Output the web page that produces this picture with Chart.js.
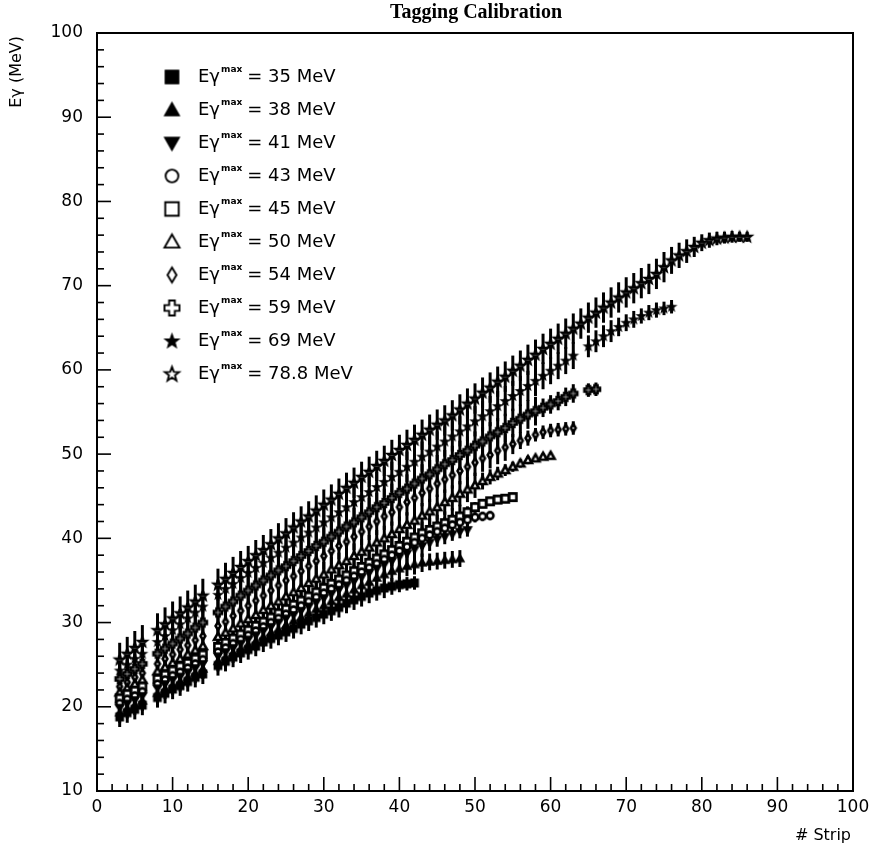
<!DOCTYPE html>
<html lang="en">
<head>
  <meta charset="UTF-8">
  <title>Tagging Calibration</title>
  <script src="https://cdn.jsdelivr.net/npm/chart.js"></script>
  <style>
    html, body { margin: 0; padding: 0; background: #fff; }
    #wrap { width: 877px; height: 845px; }
  </style>
</head>
<body>
  <div id="wrap"><canvas id="calib" width="877" height="845"></canvas></div>
  <script>
    // strip numbers (7 and 15 are absent in every run)
    const strips = [3,4,5,6, 8,9,10,11,12,13,14,
      16,17,18,19,20,21,22,23,24,25,26,27,28,29,30,31,32,33,34,35,36,37,38,39,40,
      41,42,43,44,45,46,47,48,49,50,51,52,53,54,55,56,57,58,59,60,
      61,62,63,64,65,66,67,68,69,70,71,72,73,74,75,76,77,78,79,80,
      81,82,83,84,85,86];

    // photon energy (MeV) per strip, one array per endpoint energy
    const e35 = [18.8,19.3,19.7,20.2, 21.1,21.6,22.1,22.5,23.0,23.5,23.9,
      24.9,25.4,25.9,26.4,26.8,27.2,27.7,28.1,28.5,28.9,29.3,29.8,30.2,30.6,31.0,31.4,31.8,32.3,32.7,33.1,33.5,33.8,34.1,34.3,34.5,
      34.6,34.7];
    const e38 = [19.3,19.8,20.2,20.7, 21.6,22.1,22.6,23.0,23.5,24.0,24.5,
      25.4,25.9,26.4,26.9,27.4,27.8,28.3,28.8,29.2,29.7,30.2,30.6,31.1,31.6,32.0,32.5,33.0,33.4,33.9,34.4,34.8,35.3,35.7,36.1,36.4,
      36.7,36.9,37.1,37.2,37.3,37.4,37.5,37.6];
    const e41 = [19.9,20.4,20.8,21.3, 22.2,22.7,23.2,23.6,24.1,24.6,25.1,
      26.0,26.5,27.0,27.5,28.0,28.5,29.0,29.5,30.0,30.5,30.9,31.4,31.9,32.4,32.9,33.4,33.9,34.4,34.9,35.4,35.9,36.4,36.9,37.3,37.8,
      38.2,38.7,39.1,39.5,39.9,40.2,40.5,40.8,41.0];
    const e43 = [20.4,20.9,21.3,21.8, 22.7,23.2,23.7,24.1,24.6,25.1,25.6,
      26.5,27.0,27.5,28.0,28.5,29.0,29.5,30.0,30.5,31.0,31.5,32.0,32.5,33.0,33.5,34.0,34.5,35.0,35.5,36.0,36.5,37.0,37.5,38.0,38.5,
      39.0,39.5,40.0,40.4,40.8,41.2,41.6,41.9,42.2,42.5,42.6,42.7];
    const e45 = [21.0,21.5,21.9,22.4, 23.3,23.8,24.3,24.8,25.2,25.7,26.2,
      27.1,27.6,28.1,28.6,29.1,29.6,30.1,30.6,31.1,31.6,32.1,32.6,33.1,33.6,34.1,34.6,35.1,35.6,36.1,36.6,37.1,37.6,38.1,38.6,39.1,
      39.6,40.1,40.6,41.0,41.4,41.8,42.2,42.6,43.1,43.7,44.1,44.4,44.6,44.7,44.9];
    const e50 = [21.7,22.2,22.7,23.2, 24.2,24.7,25.2,25.7,26.2,26.7,27.2,
      28.3,28.8,29.3,29.9,30.4,30.9,31.5,32.0,32.5,33.1,33.6,34.1,34.7,35.2,35.7,36.3,36.8,37.3,37.9,38.4,38.9,39.5,40.0,40.5,41.1,
      41.6,42.1,42.7,43.2,43.7,44.3,44.8,45.3,45.8,46.3,46.8,47.3,47.7,48.1,48.5,48.9,49.3,49.5,49.7,49.8];
    const e54 = [22.4,22.9,23.5,24.0, 25.1,25.7,26.2,26.8,27.3,27.9,28.4,
      29.6,30.1,30.8,31.4,32.0,32.6,33.2,33.8,34.4,35.0,35.5,36.1,36.7,37.3,37.9,38.5,39.1,39.6,40.2,40.8,41.4,42.0,42.6,43.1,43.7,
      44.3,44.8,45.4,45.9,46.5,47.0,47.5,48.0,48.5,49.0,49.5,49.9,50.4,50.8,51.2,51.6,51.9,52.3,52.6,52.8,
      52.9,53.0,53.1];
    const e59 = [23.3,23.9,24.5,25.1, 26.3,26.9,27.5,28.1,28.7,29.4,30.0,
      31.2,31.9,32.5,33.2,33.8,34.4,35.0,35.6,36.2,36.7,37.3,37.9,38.5,39.1,39.6,40.2,40.8,41.4,41.9,42.5,43.1,43.7,44.2,44.8,45.4,
      45.9,46.5,47.1,47.6,48.2,48.8,49.3,49.9,50.4,51.0,51.5,52.1,52.6,53.1,53.7,54.2,54.7,55.1,55.5,55.9,
      56.3,56.8,57.2,null,57.6,57.7];
    const e69 = [24.3,25.0,25.7,26.3, 27.7,28.4,29.1,29.8,30.5,31.2,31.9,
      33.3,34.0,34.6,35.3,35.9,36.5,37.1,37.7,38.3,38.9,39.5,40.1,40.7,41.3,41.9,42.5,43.1,43.7,44.3,44.9,45.5,46.1,46.7,47.3,47.9,
      48.5,49.1,49.7,50.3,50.9,51.5,52.1,52.7,53.3,53.9,54.5,55.1,55.7,56.3,56.9,57.5,58.1,58.7,59.3,59.9,
      60.5,61.1,61.7,null,62.8,63.4,64.0,64.6,65.1,65.6,66.0,66.4,66.8,67.1,67.3,67.5];
    const e788 = [25.6,26.3,27.0,27.7, 29.1,29.8,30.5,31.1,31.8,32.5,33.2,
      34.5,35.2,35.9,36.6,37.3,38.0,38.6,39.3,40.0,40.6,41.3,42.0,42.6,43.3,44.0,44.6,45.3,46.0,46.6,47.3,47.9,48.6,49.2,49.9,50.5,
      51.1,51.7,52.3,52.9,53.5,54.0,54.6,55.3,56.0,56.6,57.3,57.9,58.6,59.2,59.9,60.5,61.2,61.8,62.5,63.1,
      63.7,64.3,64.9,65.5,66.2,66.8,67.4,68.0,68.6,69.2,69.7,70.3,70.8,71.4,72.2,73.0,73.6,74.1,74.6,75.1,
      75.4,75.6,75.7,75.8,75.8,75.8];

    // half-length of the vertical error bars (MeV)
    const err35 = [1.2,1.2,1.2,1.2, 1.2,1.2,1.2,1.2,1.2,1.2,1.2,
      1.2,1.2,1.2,1.2,1.2,1.2,1.2,1.2,1.2,1.2,1.2,1.2,1.2,1.2,1.2,1.2,1.2,1.2,1.2,1.2,1.2,1.2,1.2,1.0,0.9,
      0.8,0.8];
    const err38 = [1.2,1.2,1.2,1.2, 1.2,1.2,1.2,1.2,1.2,1.2,1.2,
      1.2,1.2,1.2,1.2,1.2,1.2,1.2,1.2,1.2,1.2,1.2,1.2,1.2,1.2,1.2,1.2,1.2,1.2,1.2,1.2,1.2,1.2,1.2,1.2,1.2,
      1.2,1.2,1.1,1.0,1.0,1.0,1.0,1.0];
    const err41 = [1.3,1.3,1.3,1.3, 1.3,1.3,1.3,1.3,1.3,1.3,1.3,
      1.3,1.3,1.3,1.3,1.3,1.3,1.3,1.3,1.3,1.3,1.3,1.3,1.3,1.3,1.3,1.3,1.3,1.3,1.3,1.3,1.3,1.3,1.3,1.3,1.3,
      1.3,1.3,1.3,1.0,0.9,0.9,0.8,0.8,0.8];
    const err43 = [1.3,1.3,1.3,1.3, 1.3,1.3,1.3,1.3,1.3,1.3,1.3,
      1.3,1.3,1.3,1.3,1.3,1.3,1.3,1.3,1.3,1.3,1.3,1.3,1.3,1.3,1.3,1.3,1.3,1.3,1.3,1.3,1.3,1.3,1.3,1.3,1.3,
      1.3,1.3,1.3,1.3,1.3,1.3,1.3,0.9,0.7,0.6,0.5,0.5];
    const err45 = [1.4,1.4,1.4,1.4, 1.4,1.4,1.4,1.4,1.4,1.4,1.4,
      1.4,1.4,1.4,1.4,1.4,1.4,1.4,1.4,1.4,1.4,1.4,1.4,1.4,1.4,1.4,1.4,1.4,1.4,1.4,1.4,1.4,1.4,1.4,1.4,1.4,
      1.4,1.4,1.4,1.4,1.4,1.4,1.4,1.4,0.7,0.6,0.5,0.5,0.5,0.5,0.5];
    const err50 = [1.5,1.5,1.5,1.5, 1.5,1.5,1.5,1.5,1.5,1.5,1.5,
      1.5,1.5,1.5,1.5,1.5,1.5,1.5,1.5,1.5,1.5,1.5,1.5,1.5,1.5,1.5,1.5,1.5,1.5,1.5,1.5,1.5,1.5,1.5,1.5,1.5,
      1.5,1.5,1.5,1.5,1.5,1.5,1.5,1.5,1.5,1.5,1.0,0.9,0.8,0.7,0.6,0.5,0.5,0.4,0.4,0.4];
    const err54 = [1.6,1.6,1.6,1.6, 1.6,1.6,1.6,1.6,1.6,1.6,1.6,
      1.6,1.6,1.6,1.6,1.6,1.6,1.6,1.6,1.6,1.6,1.6,1.6,1.6,1.6,1.6,1.6,1.6,1.6,1.6,1.6,1.6,1.6,1.6,1.6,1.6,
      1.6,1.6,1.6,1.6,1.6,1.6,1.6,1.6,1.6,1.6,1.6,1.6,1.6,1.6,1.2,1.0,0.9,0.8,0.8,0.8,
      0.8,0.8,0.8];
    const err59 = [1.7,1.7,1.7,1.7, 1.7,1.7,1.7,1.7,1.7,1.7,1.7,
      1.7,1.7,1.7,1.7,1.7,1.7,1.7,1.7,1.7,1.7,1.7,1.7,1.7,1.7,1.7,1.7,1.7,1.7,1.7,1.7,1.7,1.7,1.7,1.7,1.7,
      1.7,1.7,1.7,1.7,1.7,1.7,1.7,1.7,1.7,1.7,1.7,1.7,1.7,1.7,1.7,1.7,1.7,1.7,1.1,1.1,
      1.1,1.1,1.1,null,0.8,0.8];
    const err69 = [1.8,1.8,1.8,1.8, 1.8,1.8,1.8,1.8,1.8,1.8,1.8,
      1.8,1.8,1.8,1.8,1.8,1.8,1.8,1.8,1.8,1.8,1.8,1.8,1.8,1.8,1.8,1.8,1.8,1.8,1.8,1.8,1.8,1.8,1.8,1.8,1.8,
      1.8,1.8,1.8,1.8,1.8,1.8,1.8,1.8,1.8,1.8,1.8,1.8,1.8,1.8,1.8,1.8,1.8,1.8,1.6,1.6,
      1.6,1.6,1.6,null,1.3,1.3,1.3,1.3,1.1,1.0,1.0,0.9,0.9,0.9,0.8,0.8];
    const err788 = [2.0,2.0,2.0,2.0, 2.0,2.0,2.0,2.0,2.0,2.0,2.0,
      1.9,1.9,1.9,1.9,1.8,1.8,1.8,1.8,1.8,1.8,1.8,1.8,1.8,1.8,1.8,1.8,1.8,1.8,1.8,1.8,1.8,1.8,1.8,1.8,1.8,
      1.8,1.8,1.8,1.8,1.8,1.8,1.8,1.8,1.8,1.8,1.8,1.8,1.8,1.8,1.8,1.8,1.8,1.8,1.8,1.8,
      1.8,1.8,1.8,1.8,1.8,1.8,1.8,1.8,1.8,1.8,1.8,1.8,1.8,1.8,1.8,1.6,1.5,1.4,1.2,1.0,
      0.9,0.8,0.7,0.7,0.6,0.6];

    const endpointLabels = ['35', '38', '41', '43', '45', '50', '54', '59', '69', '78.8'];
    const markerKinds = ['squareF', 'triF', 'triDownF', 'circleO', 'squareO', 'triO', 'diamondO', 'crossO', 'starF', 'starO'];

    const series = [
      { values: e35, errors: err35 }, { values: e38, errors: err38 },
      { values: e41, errors: err41 }, { values: e43, errors: err43 },
      { values: e45, errors: err45 }, { values: e50, errors: err50 },
      { values: e54, errors: err54 }, { values: e59, errors: err59 },
      { values: e69, errors: err69 }, { values: e788, errors: err788 }
    ];

    // draw one marker symbol into a small canvas, usable as a Chart.js pointStyle
    function makeMarker(kind, s, lw) {
      const pad = Math.ceil(lw) + 1;
      const c = document.createElement('canvas');
      c.width = c.height = s + 2 * pad;
      const g = c.getContext('2d');
      const m = c.width / 2, r = s / 2;
      const open = kind.endsWith('O');
      const k = kind.slice(0, -1);
      g.beginPath();
      if (k === 'square') {
        g.rect(m - r * 0.9, m - r * 0.9, r * 1.8, r * 1.8);
      } else if (k === 'tri') {
        g.moveTo(m, m - r); g.lineTo(m + r, m + r * 0.75); g.lineTo(m - r, m + r * 0.75); g.closePath();
      } else if (k === 'triDown') {
        g.moveTo(m, m + r); g.lineTo(m + r, m - r * 0.75); g.lineTo(m - r, m - r * 0.75); g.closePath();
      } else if (k === 'circle') {
        g.arc(m, m, r * 0.85, 0, Math.PI * 2);
      } else if (k === 'diamond') {
        g.moveTo(m, m - r); g.lineTo(m + r * 0.6, m); g.lineTo(m, m + r); g.lineTo(m - r * 0.6, m); g.closePath();
      } else if (k === 'cross') {
        const w = r * 0.38;
        g.moveTo(m - w, m - r); g.lineTo(m + w, m - r); g.lineTo(m + w, m - w); g.lineTo(m + r, m - w);
        g.lineTo(m + r, m + w); g.lineTo(m + w, m + w); g.lineTo(m + w, m + r); g.lineTo(m - w, m + r);
        g.lineTo(m - w, m + w); g.lineTo(m - r, m + w); g.lineTo(m - r, m - w); g.lineTo(m - w, m - w); g.closePath();
      } else if (k === 'star') {
        for (let i = 0; i < 10; i++) {
          const rad = i % 2 === 0 ? r : r * 0.42;
          const a = -Math.PI / 2 + i * Math.PI / 5;
          const px = m + rad * Math.cos(a), py = m + 0.05 * r + rad * Math.sin(a);
          if (i === 0) g.moveTo(px, py); else g.lineTo(px, py);
        }
        g.closePath();
      }
      g.lineJoin = 'miter';
      g.lineWidth = lw;
      g.strokeStyle = '#000';
      if (open) {
        g.fillStyle = '#fff';
        g.fill();
        g.stroke();
      } else {
        g.fillStyle = '#000';
        g.fill();
        g.lineWidth = lw * 0.6;
        g.stroke();
      }
      return c;
    }

    const plotMarkers = markerKinds.map(k => makeMarker(k, 8, 2.6));
    const legendMarkers = markerKinds.map(k => makeMarker(k, 15, 1.9));

    const datasets = series.map((sr, i) => ({
      label: endpointLabels[i],
      data: sr.values.map((v, j) => ({ x: strips[j], y: v })).filter(p => p.y !== null),
      pointStyle: plotMarkers[i],
      pointRadius: 4,
      showLine: false
    }));

    const FONT = '"DejaVu Sans", sans-serif';

    // vertical error bars, placed with the chart's own scales
    const errorBars = {
      id: 'errorBars',
      beforeDatasetsDraw(chart) {
        const { ctx, scales: { x, y } } = chart;
        ctx.save();
        ctx.strokeStyle = '#000';
        ctx.lineWidth = 3;
        series.forEach(sr => {
          sr.values.forEach((v, i) => {
            if (v === null) return;
            const px = x.getPixelForValue(strips[i]);
            ctx.beginPath();
            ctx.moveTo(px, y.getPixelForValue(v - sr.errors[i]));
            ctx.lineTo(px, y.getPixelForValue(v + sr.errors[i]));
            ctx.stroke();
          });
        });
        ctx.restore();
      }
    };

    // frame, inward ticks, titles and the legend box
    const decorations = {
      id: 'decorations',
      afterDraw(chart) {
        const { ctx, chartArea: a, scales: { x, y } } = chart;
        ctx.save();
        ctx.strokeStyle = '#000';
        ctx.lineWidth = 2;
        ctx.strokeRect(a.left, a.top, a.right - a.left, a.bottom - a.top);

        ctx.lineWidth = 1.6;
        for (let v = 2; v < 100; v += 2) {
          const px = x.getPixelForValue(v);
          const len = v % 10 === 0 ? 14 : 7;
          ctx.beginPath(); ctx.moveTo(px, a.bottom); ctx.lineTo(px, a.bottom - len); ctx.stroke();
        }
        for (let v = 12; v < 100; v += 2) {
          const py = y.getPixelForValue(v);
          const len = v % 10 === 0 ? 14 : 7;
          ctx.beginPath(); ctx.moveTo(a.left, py); ctx.lineTo(a.left + len, py); ctx.stroke();
        }

        ctx.fillStyle = '#000';
        ctx.font = 'bold 20px "Liberation Serif", serif';
        ctx.textAlign = 'center';
        ctx.textBaseline = 'middle';
        ctx.fillText('Tagging Calibration', 476, 13);

        ctx.font = '16px ' + FONT;
        ctx.textAlign = 'right';
        ctx.textBaseline = 'alphabetic';
        ctx.fillText('# Strip', 851, 840);

        ctx.save();
        ctx.translate(21, 36);
        ctx.rotate(-Math.PI / 2);
        ctx.textAlign = 'right';
        ctx.fillText('Eγ (MeV)', 0, 0);
        ctx.restore();

        endpointLabels.forEach((lab, i) => {
          const cy = 77 + i * 33;
          const mk = legendMarkers[i];
          ctx.drawImage(mk, 172 - mk.width / 2, cy - mk.height / 2);
          ctx.textAlign = 'left';
          ctx.textBaseline = 'middle';
          ctx.font = '18px ' + FONT;
          let tx = 198;
          ctx.fillText('Eγ', tx, cy);
          tx += ctx.measureText('Eγ').width + 1;
          ctx.font = 'bold 9px ' + FONT;
          ctx.fillText('max', tx, cy - 7);
          tx += ctx.measureText('max').width + 5;
          ctx.font = '18px ' + FONT;
          ctx.fillText('= ' + lab + ' MeV', tx, cy);
        });
        ctx.restore();
      }
    };

    new Chart(document.getElementById('calib'), {
      type: 'scatter',
      data: { datasets },
      options: {
        responsive: false,
        animation: false,
        devicePixelRatio: 1,
        layout: { padding: { top: 33, right: 24, left: 0, bottom: 0 } },
        plugins: {
          legend: { display: false },
          tooltip: { enabled: false },
          title: { display: false }
        },
        scales: {
          x: {
            type: 'linear', min: 0, max: 100,
            afterFit: s => { s.height = 54; },
            ticks: { stepSize: 10, color: '#000', font: { family: FONT, size: 17 }, padding: 6, maxRotation: 0 },
            grid: { display: false, drawTicks: false },
            border: { display: false }
          },
          y: {
            type: 'linear', min: 10, max: 100,
            afterFit: s => { s.width = 97; },
            ticks: { stepSize: 10, color: '#000', font: { family: FONT, size: 17 }, padding: 14 },
            grid: { display: false, drawTicks: false },
            border: { display: false }
          }
        }
      },
      plugins: [errorBars, decorations]
    });
  </script>
</body>
</html>
